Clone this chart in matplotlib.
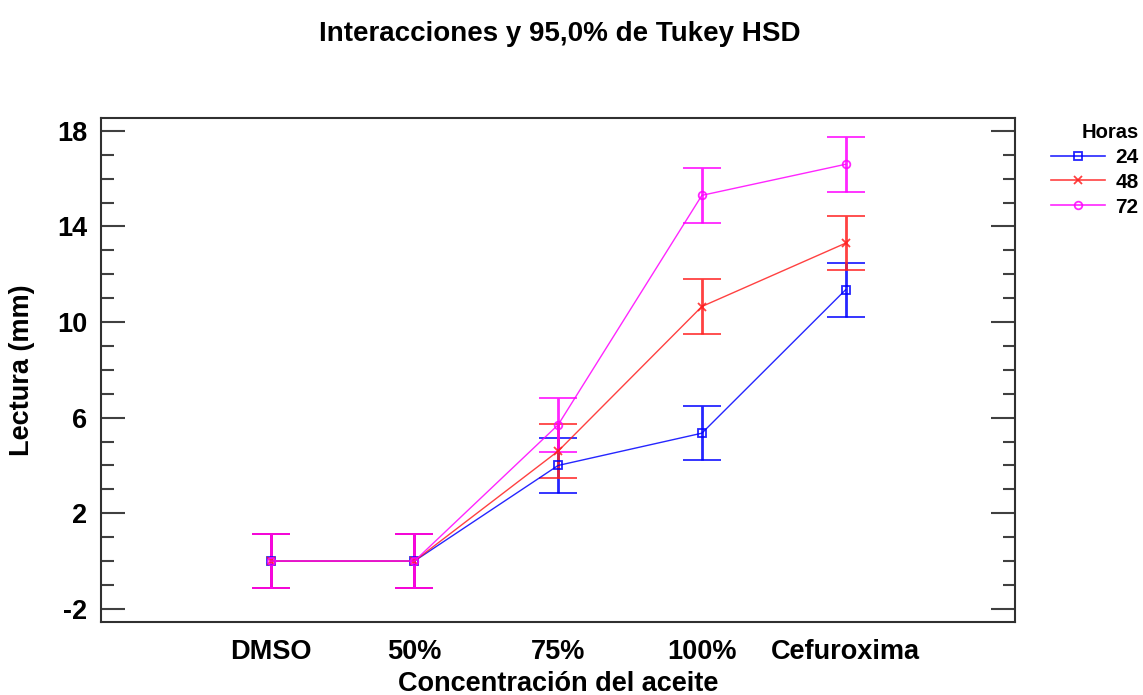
import matplotlib
matplotlib.use('Agg')
import matplotlib.pyplot as plt
from matplotlib.ticker import MultipleLocator
from matplotlib.lines import Line2D
import numpy as np

plt.rcParams['font.family'] = ['Liberation Sans', 'DejaVu Sans']
plt.rcParams['font.weight'] = 'bold'
plt.rcParams['axes.unicode_minus'] = False

categorias = ['DMSO', '50%', '75%', '100%', 'Cefuroxima']
horas = ['24', '48', '72']
lectura_24 = [0.0, 0.0, 4.0, 5.35, 11.35]
lectura_48 = [0.0, 0.0, 4.6, 10.65, 13.3]
lectura_72 = [0.0, 0.0, 5.7, 15.3, 16.6]
error_hsd = 1.14
colores = ['#0000ff', '#ff2020', '#ff00ff']
marcadores = ['s', 'x', 'o']

fig = plt.figure(figsize=(11.43, 6.95), dpi=100)
ax = fig.add_axes([0.0884, 0.105, 0.7998, 0.725])

x = np.arange(len(categorias))
manijas = []
for serie, etiqueta, c, m in zip([lectura_24, lectura_48, lectura_72], horas, colores, marcadores):
    ax.errorbar(x, serie, yerr=error_hsd, color=c, lw=1.0, elinewidth=2, capsize=14,
                capthick=2, marker=m, markersize=5.5, markerfacecolor='none',
                markeredgewidth=1.3, alpha=0.85)
    manijas.append(Line2D([], [], color=c, lw=1.2, marker=m, markersize=5.5,
                          markerfacecolor='none', markeredgewidth=1.3, alpha=0.85,
                          label=etiqueta))

ax.set_xlim(-1.18, 5.18)
ax.set_ylim(-2.55, 18.53)
ax.set_xticks(x)
ax.set_xticklabels(categorias)
ax.set_yticks([-2, 2, 6, 10, 14, 18])
ax.yaxis.set_minor_locator(MultipleLocator(1))
ax.tick_params(axis='x', length=0, labelsize=19.5, pad=12)
ax.tick_params(axis='y', which='major', direction='in', length=17, width=1.5,
               labelsize=19.5, pad=10, right=True, color='#404040')
ax.tick_params(axis='y', which='minor', direction='in', length=9, width=1.5,
               right=True, color='#404040')
for s in ax.spines.values():
    s.set_linewidth(1.5)
    s.set_color('#303030')

ax.set_xlabel('Concentración del aceite', fontsize=19.5, fontweight='bold', labelpad=4.5)
ax.set_ylabel('Lectura (mm)', fontsize=19.5, fontweight='bold')
ax.yaxis.set_label_coords(-0.072, 0.5)
fig.suptitle('Interacciones y 95,0% de Tukey HSD', fontsize=20, fontweight='bold',
             x=0.49, y=0.97)

leg = ax.legend(handles=manijas, loc='upper left', bbox_to_anchor=(0.912, 0.835),
                bbox_transform=fig.transFigure, frameon=False, title='Horas',
                fontsize=15, title_fontsize=14.5, handlelength=2.6, handletextpad=0.5,
                labelspacing=0.28, borderaxespad=0, alignment='right')
leg.get_title().set_fontweight('bold')

fig.savefig('out.png', dpi=100)
